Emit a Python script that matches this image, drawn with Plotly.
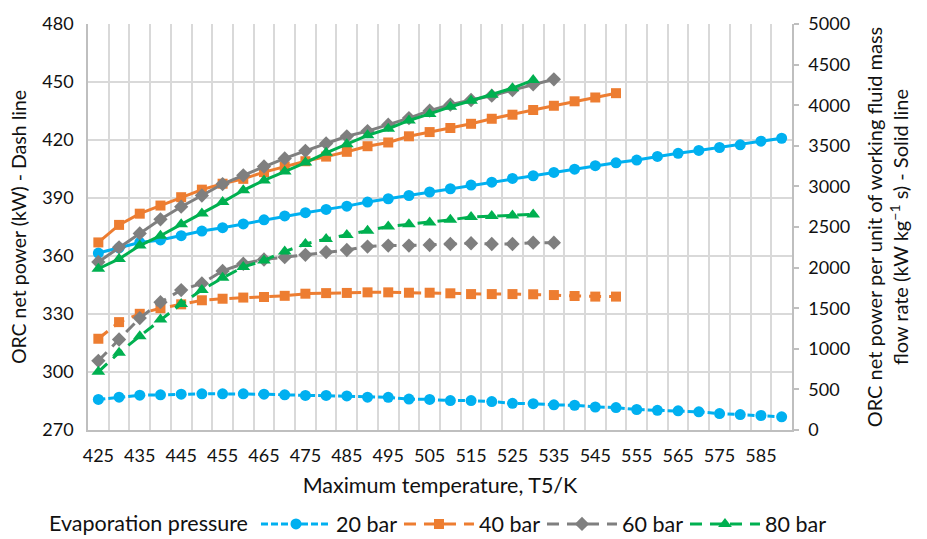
import plotly.graph_objects as go

# ---------------- data ----------------
temperature_K = [425, 430, 435, 440, 445, 450, 455, 460, 465, 470, 475, 480,
                 485, 490, 495, 500, 505, 510, 515, 520, 525, 530, 535, 540,
                 545, 550, 555, 560, 565, 570, 575, 580, 585, 590]

# ORC net power (kW) - dashed lines (left axis)
power_20bar = [285.8, 287.0, 288.0, 288.2, 288.5, 288.7, 288.7, 288.7, 288.5, 288.2,
               287.9, 287.9, 287.6, 287.0, 286.9, 286.0, 285.8, 285.2, 285.2, 284.7,
               283.8, 283.6, 283.0, 282.8, 281.9, 281.6, 280.6, 280.2, 279.9, 279.4,
               278.5, 278.0, 277.5, 276.8]
power_40bar = [317.2, 325.8, 330.1, 333.0, 335.0, 337.1, 337.9, 338.5, 338.8, 339.4,
               340.5, 340.8, 340.9, 341.2, 341.2, 341.0, 341.0, 340.7, 340.3, 340.3,
               340.3, 340.2, 339.8, 339.3, 339.0, 339.0]
power_60bar = [305.8, 316.8, 327.9, 336.1, 342.4, 345.8, 352.3, 356.0, 358.2, 359.4,
               360.6, 362.0, 363.1, 364.9, 365.4, 365.4, 365.7, 366.2, 366.6, 366.2,
               366.2, 366.9, 366.9]
power_80bar = [300.1, 310.0, 318.5, 327.1, 335.2, 342.4, 348.7, 354.3, 357.7, 362.3,
               366.2, 368.8, 370.8, 373.1, 375.3, 376.4, 377.3, 378.7, 380.2, 380.7,
               381.0, 381.5]

# ORC net power per unit working fluid mass flow rate (kW kg^-1 s) - solid lines (right axis)
specific_20bar = [2179, 2243, 2310, 2341, 2393, 2450, 2491, 2538, 2588, 2636,
                  2676, 2717, 2757, 2807, 2848, 2888, 2931, 2971, 3017, 3052,
                  3098, 3131, 3172, 3212, 3255, 3291, 3324, 3369, 3407, 3443,
                  3479, 3512, 3557, 3593]
specific_40bar = [2310, 2526, 2664, 2764, 2867, 2960, 3033, 3093, 3176, 3245,
                  3310, 3367, 3426, 3495, 3541, 3617, 3669, 3719, 3771, 3833,
                  3883, 3941, 3993, 4048, 4095, 4148]
specific_60bar = [2069, 2250, 2421, 2595, 2750, 2888, 3029, 3136, 3245, 3345,
                  3438, 3529, 3617, 3681, 3760, 3841, 3933, 4007, 4064, 4117,
                  4186, 4257, 4319]
specific_80bar = [1986, 2107, 2271, 2393, 2533, 2667, 2807, 2952, 3074, 3183,
                  3293, 3414, 3519, 3629, 3710, 3812, 3893, 3981, 4055, 4129,
                  4210, 4310]

series_names = ["20 bar", "40 bar", "60 bar", "80 bar"]
left_ticks = [270, 300, 330, 360, 390, 420, 450, 480]
right_ticks = [0, 500, 1000, 1500, 2000, 2500, 3000, 3500, 4000, 4500, 5000]
x_ticks = [425, 435, 445, 455, 465, 475, 485, 495, 505, 515, 525, 535, 545,
           555, 565, 575, 585]

# ---------------- styling ----------------
colors = ["#00B0F0", "#ED7D31", "#7F7F7F", "#00B050"]
symbols = ["circle", "square", "diamond", "triangle-up"]
msizes = [11, 10, 11, 12]
dashes = ["7px,3px", "12px,8px", "12px,8px", "12px,8px"]
FONT = "Lato"
TXT = "#111111"
TICK_SIZE = 18
YTITLE_SIZE = 19.5
XTITLE_SIZE = 21.5
LEG_SIZE = 21.5

power = [power_20bar, power_40bar, power_60bar, power_80bar]
specific = [specific_20bar, specific_40bar, specific_60bar, specific_80bar]

fig = go.Figure()

# solid lines (right axis)
for i in range(4):
    xs = temperature_K[:len(specific[i])]
    fig.add_trace(go.Scatter(
        x=xs, y=specific[i], yaxis="y2", mode="lines+markers",
        name=series_names[i], showlegend=False,
        line=dict(color=colors[i], width=3),
        marker=dict(symbol=symbols[i], size=msizes[i], color=colors[i]),
    ))

# dashed lines (left axis)
for i in range(4):
    xs = temperature_K[:len(power[i])]
    fig.add_trace(go.Scatter(
        x=xs, y=power[i], yaxis="y", mode="lines+markers",
        name=series_names[i], showlegend=True,
        line=dict(color=colors[i], width=3, dash=dashes[i]),
        marker=dict(symbol=symbols[i], size=msizes[i], color=colors[i]),
    ))

GRID = "#D9D9D9"
AXLINE = "#BFBFBF"

fig.update_layout(
    width=927, height=539,
    margin=dict(l=88, r=135, t=19, b=109),
    paper_bgcolor="white", plot_bgcolor="white",
    font=dict(family=FONT, size=TICK_SIZE, color=TXT),
    xaxis=dict(
        range=[422.5, 592.5], automargin=False,
        tickmode="array", tickvals=x_ticks, ticktext=[str(t) for t in x_ticks],
        showgrid=False, zeroline=False,
        showline=True, linecolor=AXLINE, linewidth=1.5,
        ticks="", ticklabelstandoff=9,
        tickfont=dict(family=FONT, size=TICK_SIZE, color=TXT),
        minor=dict(tick0=422.5, dtick=5, showgrid=True, gridcolor=GRID,
                   gridwidth=1.5, ticks=""),
        title=dict(text="Maximum temperature, T5/K",
                   font=dict(family=FONT, size=XTITLE_SIZE, color=TXT), standoff=13),
    ),
    yaxis=dict(
        range=[270, 480], tickmode="array", tickvals=left_ticks,
        showgrid=True, gridcolor=GRID, gridwidth=1.5, zeroline=False,
        showline=True, linecolor=AXLINE, linewidth=1.5,
        ticks="", ticklabelstandoff=9,
        tickfont=dict(family=FONT, size=TICK_SIZE, color=TXT),
        title=dict(text="ORC net power (kW) - Dash line",
                   font=dict(family=FONT, size=YTITLE_SIZE, color=TXT), standoff=10),
    ),
    yaxis2=dict(
        range=[0, 5000], tickmode="array", tickvals=right_ticks,
        overlaying="y", side="right",
        showgrid=False, zeroline=False,
        showline=True, linecolor=AXLINE, linewidth=1.5,
        ticks="outside", ticklen=5, tickcolor=AXLINE, tickwidth=1.5,
        ticklabelstandoff=6,
        tickfont=dict(family=FONT, size=TICK_SIZE, color=TXT),
        title=dict(text="ORC net power per unit of working fluid mass<br>"
                        "flow rate (kW kg<sup>\u22121</sup> s) - Solid line",
                   font=dict(family=FONT, size=20, color=TXT), standoff=19),
    ),
    legend=dict(
        orientation="h", xref="container", yref="container",
        x=47 / 927, xanchor="left", y=15 / 539, yanchor="middle",
        title=dict(text="Evaporation pressure", side="left",
                   font=dict(family=FONT, size=LEG_SIZE, color=TXT)),
        font=dict(family=FONT, size=LEG_SIZE, color=TXT),
        bgcolor="rgba(0,0,0,0)", itemwidth=70, entrywidth=58,
    ),
)

fig.write_html("out.html")
